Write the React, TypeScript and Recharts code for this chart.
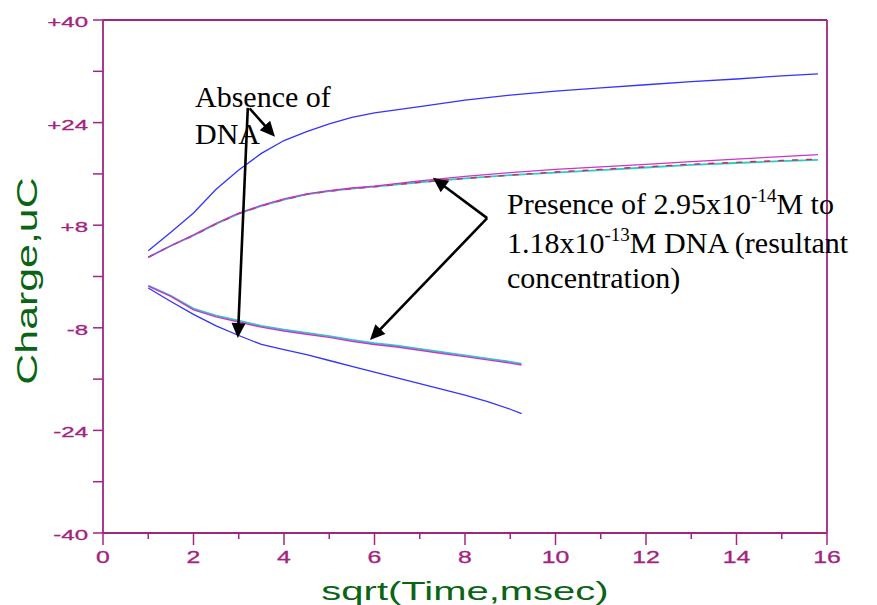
import React from 'react';
import { LineChart, Line, XAxis, YAxis, ReferenceLine } from 'recharts';

// ---- data ----
const xUpper = [1, 1.5, 2, 2.5, 3, 3.5, 4, 4.5, 5, 5.5, 6, 7, 8, 9, 10, 11, 12, 13, 14, 15, 15.8];
const absenceUpper = [4.0, 6.9, 9.9, 13.6, 16.6, 19.2, 21.2, 22.6, 23.8, 24.8, 25.5, 26.5, 27.5, 28.3, 28.9, 29.4, 29.9, 30.4, 30.8, 31.3, 31.6];
const presenceUpperMagenta = [3.0, 4.8, 6.5, 8.3, 9.9, 11.1, 12.1, 12.9, 13.4, 13.8, 14.1, 14.9, 15.6, 16.2, 16.7, 17.1, 17.5, 17.9, 18.3, 18.7, 19.0];
const presenceUpperCyan = [3.0, 4.8, 6.4, 8.2, 9.8, 11.0, 12.0, 12.8, 13.3, 13.7, 14.0, 14.7, 15.3, 15.8, 16.2, 16.6, 17.0, 17.4, 17.7, 18.0, 18.2];
const presenceUpperRed = [3.0, 4.8, 6.4, 8.2, 9.8, 11.0, 12.0, 12.8, 13.3, 13.7, 14.0, 14.7, 15.3, 15.8, 16.3, 16.7, 17.1, 17.5, 17.8, 18.1, 18.3];

const xLower = [1, 1.5, 2, 2.5, 3, 3.5, 4, 4.5, 5, 5.5, 6, 6.5, 7, 7.5, 8, 8.5, 9, 9.25];
const absenceLower = [-1.8, -3.9, -5.9, -7.7, -9.2, -10.6, -11.4, -12.2, -13.1, -14.0, -14.9, -15.8, -16.7, -17.6, -18.5, -19.5, -20.7, -21.4];
const presenceLowerMagenta = [-1.5, -3.1, -5.2, -6.3, -7.1, -7.9, -8.5, -9.0, -9.5, -10.1, -10.6, -11.0, -11.5, -12.0, -12.5, -13.0, -13.5, -13.8];
const presenceLowerCyan = [-1.4, -3.0, -5.0, -6.1, -6.9, -7.7, -8.3, -8.8, -9.3, -9.9, -10.4, -10.8, -11.3, -11.8, -12.3, -12.8, -13.3, -13.6];

const xTicks = [0, 1, 2, 3, 4, 5, 6, 7, 8, 9, 10, 11, 12, 13, 14, 15, 16];
const xLabelTicks = [0, 2, 4, 6, 8, 10, 12, 14, 16];
const yTicks = [-40, -32, -24, -16, -8, 0, 8, 16, 24, 32, 40];
const yLabelTicks = [-40, -24, -8, 8, 24, 40];
const yRightTicks = [-40, -32, -24, -16, -8, 0, 8, 16, 24, 32, 40];

// annotation arrows in data units: [start, tip]
const arrowAbsenceLong = [{ x: 3.2, y: 26.3 }, { x: 2.98, y: -9.6 }];
const arrowAbsenceShort = [{ x: 3.24, y: 26.2 }, { x: 3.8, y: 21.8 }];
const arrowPresenceUpper = [{ x: 8.49, y: 9.1 }, { x: 7.29, y: 15.4 }];
const arrowPresenceLower = [{ x: 8.49, y: 9.1 }, { x: 5.9, y: -9.9 }];

const toSeries = (xs: number[], ys: number[]) => xs.map((x, i) => ({ x, y: ys[i] }));

const AXIS = '#a2257f';
const TICKTXT = '#a3237e';
const TITLE = '#0a6414';
const SANS = '"Liberation Sans", Arial, sans-serif';
const SERIF = '"Liberation Serif", "Times New Roman", serif';

const BottomTick = (props: any) => {
  const { x, y, payload } = props;
  const v = payload.value;
  const major = xLabelTicks.includes(v);
  return (
    <g>
      <line x1={x} x2={x} y1={y} y2={y + (major ? 12 : 6)} stroke={AXIS} strokeWidth={1.5} />
      {major && (
        <text transform={`translate(${x},${y + 30}) scale(1.55,1)`} textAnchor="middle" fontSize={16} fontFamily={SANS} fill={TICKTXT} stroke={TICKTXT} strokeWidth={0.3}>
          {v}
        </text>
      )}
    </g>
  );
};

const TopTick = (props: any) => {
  const { x, y } = props;
  return <line x1={x} x2={x} y1={y} y2={y - 6} stroke={AXIS} strokeWidth={1.5} />;
};

const LeftTick = (props: any) => {
  const { x, y, payload } = props;
  const v = payload.value;
  const lab = yLabelTicks.includes(v);
  return (
    <g>
      <line x1={x} x2={x - 10} y1={y} y2={y} stroke={AXIS} strokeWidth={1.5} />
      {lab && (
        <text transform={`translate(${x - 15},${y + 7}) scale(1.55,1)`} textAnchor="end" fontSize={15.5} fontFamily={SANS} fill={TICKTXT} stroke={TICKTXT} strokeWidth={0.3}>
          {v > 0 ? `+${v}` : `${v}`}
        </text>
      )}
    </g>
  );
};

const RightTick = (props: any) => {
  const { x, y } = props;
  return <line x1={x} x2={x + 8} y1={y} y2={y} stroke={AXIS} strokeWidth={1.5} />;
};

const arrowShape = (props: any) => {
  const { x1, y1, x2, y2 } = props;
  const dx = x2 - x1;
  const dy = y2 - y1;
  const len = Math.hypot(dx, dy) || 1;
  const ux = dx / len;
  const uy = dy / len;
  const L = 15;
  const W = 7;
  const bx = x2 - ux * L;
  const by = y2 - uy * L;
  const pts = `${x2},${y2} ${bx - uy * W},${by + ux * W} ${bx + uy * W},${by - ux * W}`;
  return (
    <g>
      <line x1={x1} y1={y1} x2={bx + ux * 2} y2={by + uy * 2} stroke="#000" strokeWidth={2.6} />
      <polygon points={pts} fill="#000" />
    </g>
  );
};

export default function App() {
  return (
    <div style={{ position: 'absolute', left: 0, top: 0, width: 877, height: 605, background: '#fff' }}>
      <LineChart width={877} height={605} margin={{ top: 0, right: 0, bottom: 0, left: 0 }}>
        <XAxis
          xAxisId="bottom"
          dataKey="x"
          type="number"
          domain={[0, 16]}
          ticks={xTicks}
          interval={0}
          height={72}
          tickSize={0}
          tickMargin={0}
          tickLine={false}
          tick={<BottomTick />}
          axisLine={{ stroke: AXIS, strokeWidth: 1.8 }}
          allowDuplicatedCategory={false}
        />
        <XAxis
          xAxisId="top"
          orientation="top"
          type="number"
          domain={[0, 16]}
          ticks={xTicks}
          interval={0}
          height={20}
          tickSize={0}
          tickMargin={0}
          tickLine={false}
          tick={<TopTick />}
          axisLine={{ stroke: AXIS, strokeWidth: 1.8 }}
        />
        <YAxis
          yAxisId="left"
          type="number"
          domain={[-40, 40]}
          ticks={yTicks}
          interval={0}
          width={103}
          tickSize={0}
          tickMargin={0}
          tickLine={false}
          tick={<LeftTick />}
          axisLine={{ stroke: AXIS, strokeWidth: 1.8 }}
        />
        <YAxis
          yAxisId="right"
          orientation="right"
          type="number"
          domain={[-40, 40]}
          ticks={yRightTicks}
          interval={0}
          width={50}
          tickSize={0}
          tickMargin={0}
          tickLine={false}
          tick={<RightTick />}
          axisLine={{ stroke: AXIS, strokeWidth: 1.8 }}
        />
        <Line xAxisId="bottom" yAxisId="left" data={toSeries(xUpper, presenceUpperCyan)} dataKey="y" stroke="#33c6c6" strokeWidth={1.8} dot={false} isAnimationActive={false} />
        <Line xAxisId="bottom" yAxisId="left" data={toSeries(xUpper, presenceUpperRed)} dataKey="y" stroke="#c2305a" strokeWidth={1.4} strokeDasharray="6 8" dot={false} isAnimationActive={false} />
        <Line xAxisId="bottom" yAxisId="left" data={toSeries(xUpper, presenceUpperMagenta)} dataKey="y" stroke="#c935c9" strokeWidth={1.3} dot={false} isAnimationActive={false} />
        <Line xAxisId="bottom" yAxisId="left" data={toSeries(xUpper, absenceUpper)} dataKey="y" stroke="#3333ff" strokeWidth={1.3} dot={false} isAnimationActive={false} />
        <Line xAxisId="bottom" yAxisId="left" data={toSeries(xLower, presenceLowerCyan)} dataKey="y" stroke="#33c6c6" strokeWidth={1.8} dot={false} isAnimationActive={false} />
        <Line xAxisId="bottom" yAxisId="left" data={toSeries(xLower, presenceLowerMagenta)} dataKey="y" stroke="#c935c9" strokeWidth={1.4} dot={false} isAnimationActive={false} />
        <Line xAxisId="bottom" yAxisId="left" data={toSeries(xLower, absenceLower)} dataKey="y" stroke="#3333ff" strokeWidth={1.3} dot={false} isAnimationActive={false} />
        <ReferenceLine xAxisId="bottom" yAxisId="left" segment={arrowAbsenceLong} shape={arrowShape} ifOverflow="visible" />
        <ReferenceLine xAxisId="bottom" yAxisId="left" segment={arrowAbsenceShort} shape={arrowShape} ifOverflow="visible" />
        <ReferenceLine xAxisId="bottom" yAxisId="left" segment={arrowPresenceUpper} shape={arrowShape} ifOverflow="visible" />
        <ReferenceLine xAxisId="bottom" yAxisId="left" segment={arrowPresenceLower} shape={arrowShape} ifOverflow="visible" />
      </LineChart>
      <svg width={877} height={605} style={{ position: 'absolute', left: 0, top: 0, pointerEvents: 'none' }}>
        <text transform="translate(37,281) rotate(-90) scale(1.43,1)" textAnchor="middle" fontSize={30} fontFamily={SANS} fill={TITLE}>
          Charge,uC
        </text>
        <text transform="translate(465,600) scale(1.6,1)" textAnchor="middle" fontSize={25} fontFamily={SANS} fill={TITLE}>
          sqrt(Time,msec)
        </text>
        <g fontFamily={SERIF} fontSize={30} fill="#000">
          <text x={195} y={107}>Absence of</text>
          <text x={195} y={144}>DNA</text>
          <text x={507} y={214}>
            Presence of 2.95x10
            <tspan fontSize={19} dy={-12}>-14</tspan>
            <tspan dy={12}>M to</tspan>
          </text>
          <text x={507} y={253}>
            1.18x10
            <tspan fontSize={19} dy={-12}>-13</tspan>
            <tspan dy={12}>M DNA (resultant</tspan>
          </text>
          <text x={507} y={288}>concentration)</text>
        </g>
      </svg>
    </div>
  );
}
